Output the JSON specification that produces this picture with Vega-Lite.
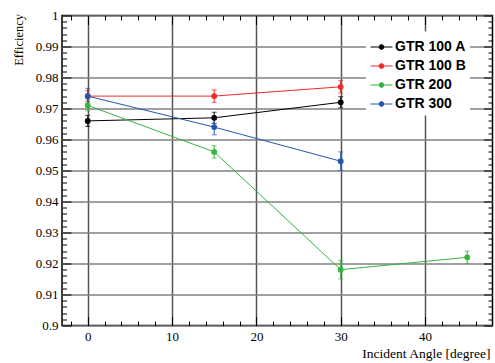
{
  "$schema": "https://vega.github.io/schema/vega-lite/v6.json",
  "autosize": "none",
  "width": 430.5,
  "height": 310,
  "padding": {"left": 62, "top": 15.5, "right": 2, "bottom": 37.5},
  "background": "white",
  "config": {
    "view": {"stroke": "#000", "strokeWidth": 1.5},
    "axis": {"labelFont": "Liberation Serif", "titleFont": "Liberation Serif", "labelColor": "#000", "titleColor": "#000"}
  },
  "data": {"values": [
    {"series": "GTR 100 A", "angle": 0, "eff": 0.966, "lo": 0.9642, "hi": 0.9678},
    {"series": "GTR 100 A", "angle": 15, "eff": 0.967, "lo": 0.9652, "hi": 0.9688},
    {"series": "GTR 100 A", "angle": 30, "eff": 0.972, "lo": 0.9702, "hi": 0.9738},
    {"series": "GTR 100 B", "angle": 0, "eff": 0.974, "lo": 0.9722, "hi": 0.9758},
    {"series": "GTR 100 B", "angle": 15, "eff": 0.974, "lo": 0.972, "hi": 0.976},
    {"series": "GTR 100 B", "angle": 30, "eff": 0.977, "lo": 0.975, "hi": 0.979},
    {"series": "GTR 200", "angle": 0, "eff": 0.971, "lo": 0.9692, "hi": 0.9728},
    {"series": "GTR 200", "angle": 15, "eff": 0.956, "lo": 0.954, "hi": 0.958},
    {"series": "GTR 200", "angle": 30, "eff": 0.918, "lo": 0.915, "hi": 0.921},
    {"series": "GTR 200", "angle": 45, "eff": 0.922, "lo": 0.92, "hi": 0.924},
    {"series": "GTR 300", "angle": 0, "eff": 0.974, "lo": 0.9715, "hi": 0.9765},
    {"series": "GTR 300", "angle": 15, "eff": 0.964, "lo": 0.9615, "hi": 0.9665},
    {"series": "GTR 300", "angle": 30, "eff": 0.953, "lo": 0.95, "hi": 0.956}
  ]},
  "resolve": {"axis": {"x": "independent", "y": "independent"}},
  "layer": [
    {
      "mark": {"type": "line", "strokeWidth": 1},
      "encoding": {
        "x": {"field": "angle", "type": "quantitative",
          "scale": {"domain": [-3.05, 48], "nice": false, "zero": false},
          "axis": {
            "orient": "bottom",
            "values": [-2,0,2,4,6,8,10,12,14,16,18,20,22,24,26,28,30,32,34,36,38,40,42,44,46],
            "labelExpr": "datum.value % 10 == 0 ? format(datum.value, 'd') : ''",
            "labelFontSize": 13,
            "labelPadding": 14,
            "domain": false,
            "tickColor": "#000",
            "tickWidth": 1,
            "tickSize": {"condition": {"test": "datum.value % 10 == 0", "value": -9}, "value": -4.5},
            "grid": true,
            "gridColor": "#555555",
            "gridWidth": 1.5,
            "gridOpacity": {"condition": {"test": "datum.value % 10 == 0", "value": 1}, "value": 0},
            "title": "Incident Angle [degree]",
            "titleFontSize": 13.5,
            "titleFontWeight": "normal",
            "titleAlign": "right",
            "titleBaseline": "alphabetic",
            "titleX": 428,
            "titleY": 31.5,
            "titleAnchor": null
          }
        },
        "y": {"field": "eff", "type": "quantitative",
          "scale": {"domain": [0.9, 1.0], "nice": false, "zero": false},
          "axis": {
            "orient": "left",
            "values": [0.9,0.902,0.904,0.906,0.908,0.91,0.912,0.914,0.916,0.918,0.92,0.922,0.924,0.926,0.928,0.93,0.932,0.934,0.936,0.938,0.94,0.942,0.944,0.946,0.948,0.95,0.952,0.954,0.956,0.958,0.96,0.962,0.964,0.966,0.968,0.97,0.972,0.974,0.976,0.978,0.98,0.982,0.984,0.986,0.988,0.99,0.992,0.994,0.996,0.998,1.0],
            "labelExpr": "abs(datum.value*100 - round(datum.value*100)) < 1e-6 ? format(datum.value, '.2~f') : ''",
            "labelFontSize": 13,
            "labelPadding": 13,
            "domain": false,
            "tickColor": "#000",
            "tickWidth": 1,
            "tickSize": {"condition": {"test": "abs(datum.value*100 - round(datum.value*100)) < 1e-6", "value": -9}, "value": -4.5},
            "grid": true,
            "gridColor": "#808080",
            "gridWidth": 1.5,
            "gridOpacity": {"condition": {"test": "abs(datum.value*100 - round(datum.value*100)) < 1e-6", "value": 1}, "value": 0},
            "title": "Efficiency",
            "titleFontSize": 12.5,
            "titleFontWeight": "normal",
            "titleAngle": -90,
            "titleAlign": "right",
            "titleBaseline": "middle",
            "titleX": -44,
            "titleY": -2,
            "titleAnchor": null
          }
        },
        "color": {"field": "series", "type": "nominal",
          "scale": {"domain": ["GTR 100 A", "GTR 100 B", "GTR 200", "GTR 300"], "range": ["#000000", "#ee2a2a", "#33b540", "#2456b0"]},
          "legend": {
            "orient": "none",
            "legendX": 304,
            "legendY": 16,
            "title": null,
            "fillColor": "white",
            "padding": 4,
            "symbolType": "M-1,0H1M0.22,0L0.156,0.156L0,0.22L-0.156,0.156L-0.22,0L-0.156,-0.156L0,-0.22L0.156,-0.156Z",
            "symbolSize": 484,
            "symbolStrokeWidth": 1,
            "rowPadding": -3,
            "labelFont": "Liberation Sans",
            "labelFontWeight": "bold",
            "labelFontSize": 14,
            "labelColor": "#000",
            "labelOffset": 2,
            "encode": {"symbols": {"update": {
              "fill": {"scale": "color", "field": "value"},
              "stroke": {"scale": "color", "field": "value"},
              "opacity": {"value": 1}
            }}}
          }
        }
      }
    },
    {
      "mark": {"type": "errorbar", "ticks": {"size": 5}, "thickness": 1},
      "encoding": {
        "x": {"field": "angle", "type": "quantitative", "axis": null},
        "y": {"field": "lo", "type": "quantitative", "axis": null},
        "y2": {"field": "hi"},
        "color": {"field": "series", "type": "nominal", "legend": null}
      }
    },
    {
      "mark": {"type": "point", "filled": true, "opacity": 1, "size": 34},
      "encoding": {
        "x": {"field": "angle", "type": "quantitative",
          "axis": {
            "orient": "top",
            "values": [-2,0,2,4,6,8,10,12,14,16,18,20,22,24,26,28,30,32,34,36,38,40,42,44,46],
            "labels": false, "domain": false, "grid": false, "title": null,
            "tickColor": "#000", "tickWidth": 1,
            "tickSize": {"condition": {"test": "datum.value % 10 == 0", "value": -9}, "value": -4.5}
          }
        },
        "y": {"field": "eff", "type": "quantitative",
          "axis": {
            "orient": "right",
            "values": [0.9,0.902,0.904,0.906,0.908,0.91,0.912,0.914,0.916,0.918,0.92,0.922,0.924,0.926,0.928,0.93,0.932,0.934,0.936,0.938,0.94,0.942,0.944,0.946,0.948,0.95,0.952,0.954,0.956,0.958,0.96,0.962,0.964,0.966,0.968,0.97,0.972,0.974,0.976,0.978,0.98,0.982,0.984,0.986,0.988,0.99,0.992,0.994,0.996,0.998,1.0],
            "labels": false, "domain": false, "grid": false, "title": null,
            "tickColor": "#000", "tickWidth": 1,
            "tickSize": {"condition": {"test": "abs(datum.value*100 - round(datum.value*100)) < 1e-6", "value": -9}, "value": -4.5}
          }
        },
        "color": {"field": "series", "type": "nominal", "legend": null}
      }
    }
  ]
}
